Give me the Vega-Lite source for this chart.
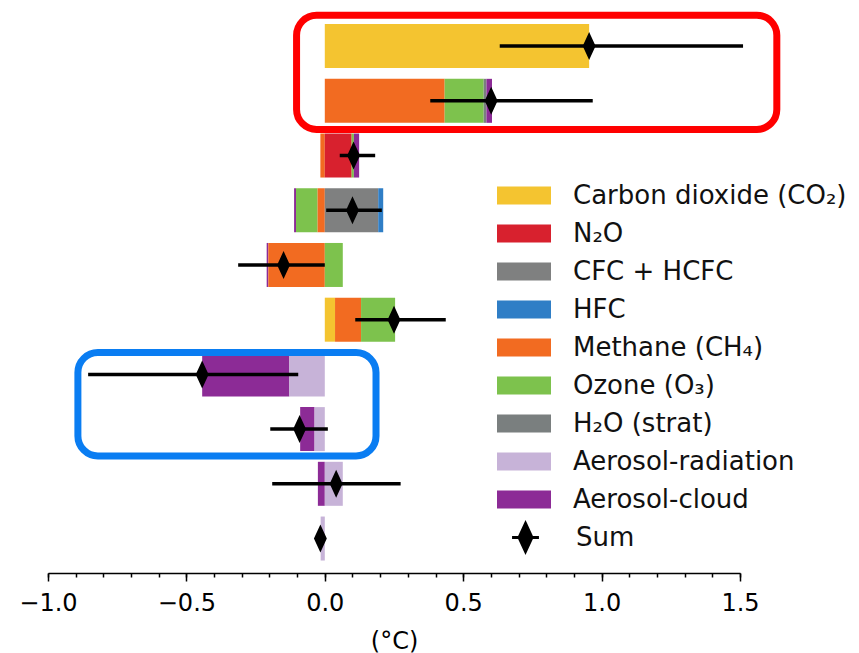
{
  "$schema": "https://vega.github.io/schema/vega-lite/v6.json",
  "width": 692,
  "height": 563,
  "autosize": "none",
  "padding": {"left": 48, "top": 10, "right": 119, "bottom": 80},
  "config": {
    "view": {"stroke": null},
    "font": "DejaVu Sans",
    "legend": {
      "orient": "none",
      "padding": 0,
      "rowPadding": 0,
      "labelFont": "DejaVu Sans",
      "labelFontSize": 26,
      "labelColor": "#111111",
      "labelLimit": 500
    }
  },
  "resolve": {"axis": {"x": "independent"}, "scale": {"color": "independent"}},
  "datasets": {
    "segs": [
      {"row": 1, "comp": "Carbon dioxide (CO₂)", "x0": 0, "x1": 0.955},
      {"row": 2, "comp": "Methane (CH₄)", "x0": 0, "x1": 0.433},
      {"row": 2, "comp": "Ozone (O₃)", "x0": 0.433, "x1": 0.574},
      {"row": 2, "comp": "H₂O (strat)", "x0": 0.574, "x1": 0.584},
      {"row": 2, "comp": "Aerosol-cloud", "x0": 0.584, "x1": 0.604},
      {"row": 3, "comp": "Methane (CH₄)", "x0": -0.016, "x1": 0},
      {"row": 3, "comp": "N₂O", "x0": 0, "x1": 0.097},
      {"row": 3, "comp": "Ozone (O₃)", "x0": 0.097, "x1": 0.105},
      {"row": 3, "comp": "Aerosol-cloud", "x0": 0.105, "x1": 0.124},
      {"row": 4, "comp": "Aerosol-cloud", "x0": -0.111, "x1": -0.104},
      {"row": 4, "comp": "Ozone (O₃)", "x0": -0.104, "x1": -0.026},
      {"row": 4, "comp": "Methane (CH₄)", "x0": -0.026, "x1": 0},
      {"row": 4, "comp": "CFC + HCFC", "x0": 0, "x1": 0.193},
      {"row": 4, "comp": "HFC", "x0": 0.193, "x1": 0.211},
      {"row": 5, "comp": "Aerosol-cloud", "x0": -0.21, "x1": -0.204},
      {"row": 5, "comp": "Methane (CH₄)", "x0": -0.204, "x1": 0},
      {"row": 5, "comp": "Ozone (O₃)", "x0": 0, "x1": 0.065},
      {"row": 6, "comp": "Carbon dioxide (CO₂)", "x0": 0, "x1": 0.037},
      {"row": 6, "comp": "Methane (CH₄)", "x0": 0.037, "x1": 0.131},
      {"row": 6, "comp": "Ozone (O₃)", "x0": 0.131, "x1": 0.254},
      {"row": 7, "comp": "Aerosol-cloud", "x0": -0.443, "x1": -0.128},
      {"row": 7, "comp": "Aerosol-radiation", "x0": -0.128, "x1": 0},
      {"row": 8, "comp": "Aerosol-cloud", "x0": -0.089, "x1": -0.037},
      {"row": 8, "comp": "Aerosol-radiation", "x0": -0.037, "x1": 0},
      {"row": 9, "comp": "Aerosol-cloud", "x0": -0.025, "x1": 0},
      {"row": 9, "comp": "Aerosol-radiation", "x0": 0, "x1": 0.065},
      {"row": 10, "comp": "Aerosol-radiation", "x0": -0.015, "x1": 0}
    ],
    "sums": [
      {"row": 1, "sum": 0.955, "lo": 0.632, "hi": 1.511},
      {"row": 2, "sum": 0.601, "lo": 0.381, "hi": 0.968},
      {"row": 3, "sum": 0.104, "lo": 0.054, "hi": 0.182},
      {"row": 4, "sum": 0.1, "lo": 0.005, "hi": 0.206},
      {"row": 5, "sum": -0.149, "lo": -0.313, "hi": 0},
      {"row": 6, "sum": 0.25, "lo": 0.11, "hi": 0.437},
      {"row": 7, "sum": -0.443, "lo": -0.855, "hi": -0.096},
      {"row": 8, "sum": -0.091, "lo": -0.197, "hi": 0.011},
      {"row": 9, "sum": 0.041, "lo": -0.19, "hi": 0.274},
      {"row": 10, "sum": -0.016, "lo": -0.02, "hi": -0.012}
    ],
    "boxes": [
      {"box": "red", "x0": -0.102, "x1": 1.633, "y0": 0.436, "y1": 2.523},
      {"box": "blue", "x0": -0.892, "x1": 0.185, "y0": 6.6, "y1": 8.49}
    ]
  },
  "layer": [
    {
      "data": {"name": "segs"},
      "mark": {"type": "bar", "size": 44},
      "encoding": {
        "y": {"field": "row", "type": "quantitative", "axis": null,
              "scale": {"domain": [0.34, 10.63], "reverse": true, "nice": false, "zero": false, "padding": 0}},
        "x": {"field": "x0", "type": "quantitative", "title": "(°C)",
              "scale": {"domain": [-1, 1.5], "nice": false, "zero": false, "padding": 0},
              "axis": {
                "orient": "bottom",
                "values": [-1, -0.5, 0, 0.5, 1, 1.5],
                "labelExpr": "replace(format(datum.value, '.1f'), '-', '−')",
                "tickSize": 8,
                "grid": false,
                "domainColor": "#000000",
                "domainWidth": 1.5,
                "tickColor": "#000000",
                "tickWidth": 1.5,
                "labelFontSize": 24,
                "labelColor": "#000000",
                "labelPadding": 10,
                "labelFlush": false,
                "labelOverlap": false,
                "titleFontSize": 24,
                "titleFontWeight": "normal",
                "titleColor": "#000000",
                "titlePadding": 14
              }},
        "x2": {"field": "x1"},
        "color": {
          "field": "comp", "type": "nominal",
          "scale": {
            "domain": ["Carbon dioxide (CO₂)", "N₂O", "CFC + HCFC", "HFC", "Methane (CH₄)", "Ozone (O₃)", "H₂O (strat)", "Aerosol-radiation", "Aerosol-cloud"],
            "range": ["#f4c430", "#d8212e", "#7f8080", "#2f7ec6", "#f26b21", "#7dc24d", "#7a7f7f", "#c7b3d8", "#8c2b96"]
          },
          "legend": {
            "title": null,
            "legendX": 451,
            "legendY": 160.5,
            "symbolSize": 2500,
            "labelOffset": 24,
            "encode": {
              "symbols": {
                "update": {
                  "shape": {"value": "M-1.08,-0.36H1.08V0.36H-1.08Z"},
                  "strokeWidth": {"value": 0}
                }
              }
            }
          }
        }
      }
    },
    {
      "mark": {"type": "rule", "color": "#444444", "strokeWidth": 1},
      "encoding": {"x": {"datum": 0, "axis": {"orient": "bottom", "labels": false, "ticks": false, "domain": false, "grid": false, "title": null}}}
    },
    {
      "data": {"name": "sums"},
      "mark": {"type": "rule", "color": "#000000", "strokeWidth": 3.5},
      "encoding": {
        "y": {"field": "row", "type": "quantitative"},
        "x": {"field": "lo", "type": "quantitative",
              "axis": {"orient": "bottom", "values": [-1, -0.9, -0.8, -0.7, -0.6, -0.5, -0.4, -0.3, -0.2, -0.1, 0, 0.1, 0.2, 0.3, 0.4, 0.5, 0.6, 0.7, 0.8, 0.9, 1, 1.1, 1.2, 1.3, 1.4, 1.5],
                       "labels": false, "domain": false, "grid": false, "title": null,
                       "tickSize": 4, "tickWidth": 1.5, "tickColor": "#000000"}},
        "x2": {"field": "hi"}
      }
    },
    {
      "data": {"name": "sums"},
      "mark": {"type": "point", "filled": true, "opacity": 1, "size": 784,
               "stroke": "#000000", "strokeWidth": 0,
               "shape": "M-0.96,0H0.96M0,-1L0.46,0L0,1L-0.46,0Z"},
      "encoding": {
        "y": {"field": "row", "type": "quantitative"},
        "x": {"field": "sum", "type": "quantitative", "axis": {"orient": "bottom", "labels": false, "ticks": false, "domain": false, "grid": false, "title": null}},
        "color": {
          "datum": "Sum", "type": "nominal",
          "scale": {"domain": ["Sum"], "range": ["#000000"]},
          "legend": {
            "title": null,
            "legendX": 462,
            "legendY": 512,
            "symbolSize": 784,
            "labelOffset": 35,
            "symbolStrokeColor": "#000000",
            "symbolStrokeWidth": 3,
            "encode": {
              "symbols": {
                "update": {
                  "stroke": {"value": "#000000"},
                  "strokeWidth": {"value": 3},
                  "fill": {"value": "#000000"}
                }
              }
            }
          }
        }
      }
    },
    {
      "data": {"name": "boxes"},
      "mark": {"type": "rect", "fill": "transparent", "strokeWidth": 7, "cornerRadius": 20},
      "encoding": {
        "x": {"field": "x0", "type": "quantitative", "axis": {"orient": "bottom", "labels": false, "ticks": false, "domain": false, "grid": false, "title": null}},
        "x2": {"field": "x1"},
        "y": {"field": "y0", "type": "quantitative"},
        "y2": {"field": "y1"},
        "stroke": {"field": "box", "type": "nominal", "legend": null,
                   "scale": {"domain": ["red", "blue"], "range": ["#ff0000", "#0a7df2"]}}
      }
    }
  ]
}
